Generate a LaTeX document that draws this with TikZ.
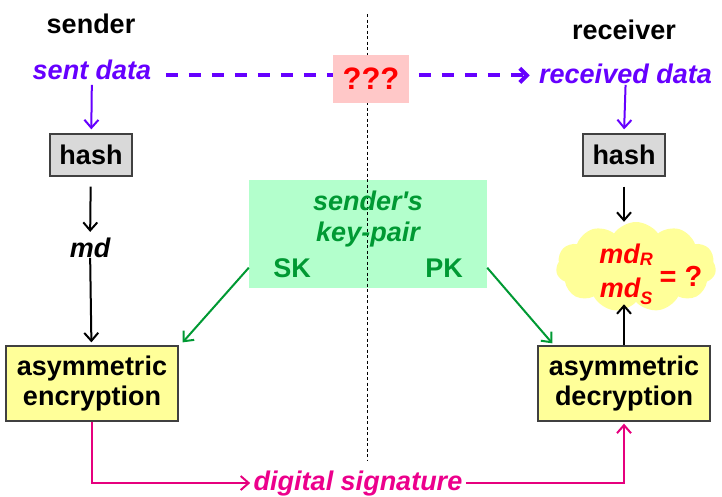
\documentclass[tikz,border=0pt]{standalone}
\usepackage{fontspec}
\setmainfont{Liberation Sans}
\usetikzlibrary{arrows.meta,shapes.symbols}
\definecolor{dataviolet}{HTML}{6600FF}
\definecolor{keygreen}{HTML}{009933}
\definecolor{keyfill}{HTML}{B3FFCC}
\definecolor{boxyellow}{HTML}{FFFF99}
\definecolor{boxgray}{HTML}{D9D9D9}
\definecolor{qpink}{HTML}{FFC8C8}
\definecolor{sigline}{HTML}{E6007E}
\begin{document}
\begin{tikzpicture}[x=1pt,y=-1pt,
  every node/.style={font=\fontsize{27}{30}\selectfont\bfseries},
  lbl/.style={anchor=base},
  ital/.style={font=\fontsize{27}{30}\selectfont\bfseries\itshape},
  hashbox/.style={draw=black!75,line width=1.3pt,fill=boxgray,inner sep=0pt,minimum width=82pt,minimum height=42pt},
  cryptbox/.style={draw=black!75,line width=1.3pt,fill=boxyellow,inner sep=0pt,minimum width=172pt,minimum height=75pt,align=center},
  flow/.style={line width=2pt,-{Straight Barb[length=8pt,width=14pt]}},
  keyflow/.style={flow,draw=keygreen},
  sigflow/.style={flow,draw=sigline}
]
\useasboundingbox (0,0) rectangle (722,496);

% key pair
\node[fill=keyfill,minimum width=238pt,minimum height=108pt,inner sep=0pt] (keys) at (368,234) {};
\draw[line width=0.9pt,dash pattern=on 3pt off 2.5pt] (367,14) -- (367,460);

% sender side
\node[lbl] (sender) at (91,33) {sender};
\node[lbl,ital,text=dataviolet] (sent) at (92,79) {sent data};
\node[hashbox] (hashS) at (91,155) {hash};
\node[lbl,ital] (md) at (90,257) {md};
\node[cryptbox] (enc) at (92,383.5) {asymmetric\\encryption};

% receiver side
\node[lbl] (receiver) at (624,39) {receiver};
\node[lbl,ital,text=dataviolet] (recv) at (625.5,83) {received data};
\node[hashbox] (hashR) at (624,155) {hash};
\node[cloud,cloud puffs=11,cloud puff arc=110,fill=boxyellow,minimum width=160pt,minimum height=90pt,inner sep=0pt] (cmp) at (636,267) {};
\node[lbl,ital,text=red] (mdR) at (626,263) {md\raisebox{-2pt}{\fontsize{18}{18}\selectfont R}};
\node[lbl,ital,text=red] (mdS) at (626,297) {md\raisebox{-7pt}{\fontsize{18}{18}\selectfont S}};
\node[lbl,text=red,font=\fontsize{29}{30}\selectfont\bfseries] (eq) at (681,286) {= ?};
\node[cryptbox] (dec) at (624,383.5) {asymmetric\\decryption};

% key pair texts
\node[lbl,ital,text=keygreen] (kname) at (368,210) {sender\textquotesingle s};
\node[lbl,ital,text=keygreen] (kpair) at (368,241.5) {key-pair};
\node[lbl,text=keygreen] (SK) at (292,277) {SK};
\node[lbl,text=keygreen] (PK) at (444,277) {PK};

% channel
\draw[dataviolet,line width=4pt,dash pattern=on 12pt off 11pt,-{Straight Barb[length=7pt,width=14pt]}]
  ([yshift=-6pt]sent.east) ++(11,0) -- ([yshift=-6pt,xshift=-6pt]sent.east -| recv.west);
\node[fill=qpink,text=red,minimum width=76pt,minimum height=48pt,inner sep=0pt,font=\fontsize{31}{32}\selectfont\bfseries] (unknown) at (371,79) {???};
\node[lbl,ital,text=magenta] (sig) at (358,490) {digital signature};

% arrows
\draw[flow,draw=dataviolet,shorten <=2pt,shorten >=4pt] (sent) -- (hashS);
\draw[flow,shorten <=10pt,shorten >=2pt] (hashS) -- (md);
\draw[flow,shorten <=-3pt,shorten >=3pt] (md) -- (enc);
\draw[flow,draw=dataviolet,shorten <=-2pt,shorten >=4pt] (recv.south) -- (hashR.north);
\draw[flow,shorten <=10pt] (hashR.south) -- (hashR.south |- cmp.north);
\draw[flow,shorten >=2pt] (dec.north) -- (dec.north |- cmp.south);
\draw[keyflow] (keys.west |- SK) -- ([xshift=4pt,yshift=3pt]enc.north east);
\draw[keyflow] (keys.east |- PK) -- ([xshift=15pt,yshift=2pt]dec.north west);
\draw[sigflow] (enc.south) |- (sig.west);
\draw[sigflow,shorten >=2pt] (sig.east) -| (dec.south);
\end{tikzpicture}
\end{document}
